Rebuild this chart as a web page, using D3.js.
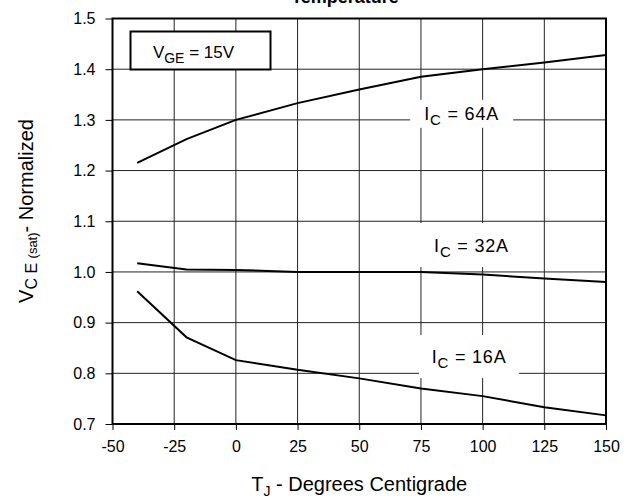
<!DOCTYPE html>
<html>
<head>
<meta charset="utf-8">
<script src="https://cdn.jsdelivr.net/npm/d3@7"></script>
<style>
  html, body { margin: 0; padding: 0; background: #fff; }
  svg { display: block; font-family: "Liberation Sans", Arial, sans-serif; }
</style>
</head>
<body>
<div id="chart"></div>
<script>
// Data
const temps = [-40, -20, 0, 25, 50, 75, 100, 125, 150];
const ic64 = [1.215, 1.262, 1.300, 1.333, 1.360, 1.385, 1.400, 1.413, 1.428];
const ic32 = [1.017, 1.005, 1.004, 1.000, 1.000, 1.000, 0.995, 0.987, 0.980];
const ic16 = [0.962, 0.871, 0.826, 0.807, 0.790, 0.770, 0.755, 0.733, 0.717];
const xTicks = [-50, -25, 0, 25, 50, 75, 100, 125, 150];
const yTicks = [0.7, 0.8, 0.9, 1.0, 1.1, 1.2, 1.3, 1.4, 1.5];
const seriesNames = ['64A', '32A', '16A'];

const W = 642, H = 499;
const MARGIN = { left: 112.5, top: 18.5, right: 36, bottom: 75 };
const innerW = W - MARGIN.left - MARGIN.right;
const innerH = H - MARGIN.top - MARGIN.bottom;
const FONT = 'Liberation Sans, Arial, sans-serif';

const svg = d3.select('#chart').append('svg')
    .attr('width', W)
    .attr('height', H);

// title, mostly cut off at the top of the picture (as in the reference)
svg.append('text')
    .attr('x', 345)
    .attr('y', 3)
    .attr('text-anchor', 'middle')
    .attr('font-size', 18)
    .attr('font-weight', 'bold')
    .text('Temperature');

const g = svg.append('g')
    .attr('transform', `translate(${MARGIN.left}, ${MARGIN.top})`);

const x = d3.scaleLinear().domain([-50, 150]).range([0, innerW]);
const y = d3.scaleLinear().domain([0.7, 1.5]).range([innerH, 0]);

// grid lines
g.append('g')
    .selectAll('line')
    .data(xTicks)
    .join('line')
    .attr('x1', d => x(d)).attr('x2', d => x(d))
    .attr('y1', 0).attr('y2', innerH)
    .attr('stroke', '#222')
    .attr('stroke-width', 1);
g.append('g')
    .selectAll('line')
    .data(yTicks)
    .join('line')
    .attr('x1', 0).attr('x2', innerW)
    .attr('y1', d => y(d)).attr('y2', d => y(d))
    .attr('stroke', '#222')
    .attr('stroke-width', 1);

// axes (plain hyphen for negatives, like the reference)
const xAxis = d3.axisBottom(x).tickValues(xTicks).tickSize(6).tickPadding(11)
    .tickFormat(d => String(d));
g.append('g')
    .attr('transform', `translate(0, ${innerH})`)
    .call(xAxis)
    .call(a => a.select('.domain').remove())
    .call(a => a.selectAll('text').attr('font-size', 16).attr('font-family', FONT).attr('fill', '#000'));

const yAxis = d3.axisLeft(y).tickValues(yTicks).tickSize(7).tickPadding(10)
    .tickFormat(d3.format('.1f'));
g.append('g')
    .call(yAxis)
    .call(a => a.select('.domain').remove())
    .call(a => a.selectAll('text').attr('font-size', 16).attr('font-family', FONT).attr('fill', '#000'));

// plot frame
g.append('rect')
    .attr('x', 0).attr('y', 0)
    .attr('width', innerW).attr('height', innerH)
    .attr('fill', 'none')
    .attr('stroke', '#000')
    .attr('stroke-width', 2);

// curves
const line = d3.line()
    .x((d, i) => x(temps[i]))
    .y(d => y(d));
g.selectAll('.curve')
    .data([ic64, ic32, ic16])
    .join('path')
    .attr('class', 'curve')
    .attr('d', line)
    .attr('fill', 'none')
    .attr('stroke', '#000')
    .attr('stroke-width', 2);

// curve labels, white boxes over the grid
const labelAt = [
    { t: 91.5, v: 1.312, w: 103, h: 28, dy: 6 },
    { t: 95.5, v: 1.053, w: 108, h: 44, dy: 7 },
    { t: 94.5, v: 0.833, w: 100, h: 43, dy: 6 }
];
labelAt.forEach((p, i) => {
    const cx = x(p.t), cy = y(p.v);
    g.append('rect')
        .attr('x', cx - p.w / 2).attr('y', cy - p.h / 2)
        .attr('width', p.w).attr('height', p.h)
        .attr('fill', '#fff');
    const t = g.append('text')
        .attr('x', cx)
        .attr('y', cy + p.dy)
        .attr('text-anchor', 'middle')
        .attr('letter-spacing', 0.8)
        .attr('font-size', 18);
    t.append('tspan').text('I');
    t.append('tspan').attr('font-size', 15).attr('dy', 5).text('C');
    t.append('tspan').attr('dy', -5).text(' = ' + seriesNames[i]);
});

// V_GE box
g.append('rect')
    .attr('x', 18).attr('y', 13)
    .attr('width', 140).attr('height', 38)
    .attr('fill', '#fff')
    .attr('stroke', '#000')
    .attr('stroke-width', 2);
const vge = g.append('text')
    .attr('x', 81)
    .attr('y', 39)
    .attr('text-anchor', 'middle')
    .attr('font-size', 17);
vge.append('tspan').text('V');
vge.append('tspan').attr('font-size', 14).attr('dy', 5).text('GE');
vge.append('tspan').attr('dy', -5).text(' = 15V');

// axis titles
const xt = svg.append('text')
    .attr('x', MARGIN.left + innerW / 2)
    .attr('y', 491)
    .attr('text-anchor', 'middle')
    .attr('font-size', 20);
xt.append('tspan').text('T');
xt.append('tspan').attr('font-size', 14).attr('dy', 5).text('J');
xt.append('tspan').attr('dy', -5).text(' - Degrees Centigrade');

const yt = svg.append('text')
    .attr('transform', 'translate(33, 211) rotate(-90)')
    .attr('text-anchor', 'middle')
    .attr('font-size', 20);
yt.append('tspan').text('V');
yt.append('tspan').attr('font-size', 16).attr('dy', 4).text('C E ');
yt.append('tspan').attr('font-size', 13).text('(sat)');
yt.append('tspan').attr('dy', -4).text('- Normalized');
</script>
</body>
</html>
